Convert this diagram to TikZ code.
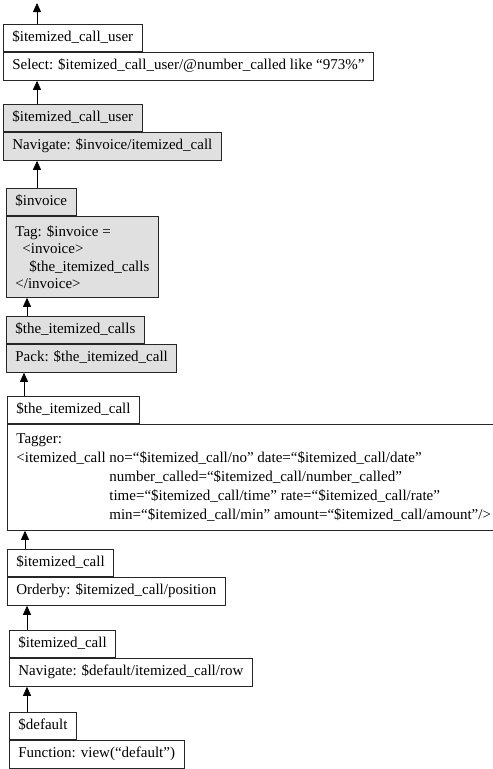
\documentclass[tikz,border=0pt]{standalone}
\usepackage{fontspec}
\setmainfont{Liberation Serif}
\usetikzlibrary{positioning,arrows.meta}
\tikzset{
  basebox/.style={draw=black!85, line width=0.8pt, inner xsep=9pt, inner ysep=0pt, font=\fontsize{15}{18}\selectfont},
  opbox/.style={basebox, anchor=north west, minimum height=28pt, text height=10.5pt, text depth=3.5pt},
  varbox/.style={basebox, anchor=south west, minimum height=27pt, text height=10.5pt, text depth=3.5pt},
  multibox/.style={basebox, anchor=north west, align=left},
  shaded/.style={fill=black!12},
  flow/.style={-{Triangle[length=9pt,width=8pt]}, line width=0.8pt},
}
\begin{document}
\begin{tikzpicture}[x=1pt, y=-1pt]
\useasboundingbox (0,0) rectangle (493,769);
% operator boxes, from top to bottom
\node[opbox] (sel) at (3,52) {Select: \$itemized\_call\_user/@number\_called like “973\%”};
\node[varbox] (selv) at (sel.north west) {\$itemized\_call\_user};
\node[opbox,shaded] (nav1) at (3,132) {Navigate: \$invoice/itemized\_call};
\node[varbox,shaded] (nav1v) at (nav1.north west) {\$itemized\_call\_user};
\node[multibox,shaded,minimum height=81pt,font=\fontsize{15}{17.5}\selectfont] (tag) at (6,216) {Tag: \$invoice =\\\hspace*{7pt}<invoice>\\\hspace*{14pt}\$the\_itemized\_calls\\</invoice>};
\node[varbox,shaded] (tagv) at (tag.north west) {\$invoice};
\node[opbox,shaded] (pack) at (6,344) {Pack: \$the\_itemized\_call};
\node[varbox,shaded] (packv) at (pack.north west) {\$the\_itemized\_calls};
\node[multibox,minimum height=106pt,font=\fontsize{15}{19}\selectfont] (tagger) at (7,424) {Tagger:\\
<itemized\_call no=“\$itemized\_call/no” date=“\$itemized\_call/date”\\
\hphantom{<itemized\_call }number\_called=“\$itemized\_call/number\_called”\\
\hphantom{<itemized\_call }time=“\$itemized\_call/time” rate=“\$itemized\_call/rate”\\
\hphantom{<itemized\_call }min=“\$itemized\_call/min” amount=“\$itemized\_call/amount”/>};
\node[varbox] (taggerv) at (tagger.north west) {\$the\_itemized\_call};
\node[opbox] (ord) at (7,577) {Orderby: \$itemized\_call/position};
\node[varbox] (ordv) at (ord.north west) {\$itemized\_call};
\node[opbox] (nav2) at (9,658) {Navigate: \$default/itemized\_call/row};
\node[varbox] (nav2v) at (nav2.north west) {\$itemized\_call};
\node[opbox] (fun) at (9,740) {Function: view(“default”)};
\node[varbox] (funv) at (fun.north west) {\$default};
\coordinate (out) at (37,3);
% data flow, bottom to top
\draw[flow] ([xshift=18pt]funv.north west) -- ([xshift=18pt]funv.north west |- nav2.south);
\draw[flow] ([xshift=18pt]nav2v.north west) -- ([xshift=18pt]nav2v.north west |- ord.south);
\draw[flow] ([xshift=18pt]ordv.north west) -- ([xshift=18pt]ordv.north west |- tagger.south);
\draw[flow] ([xshift=17pt]taggerv.north west) -- ([xshift=17pt]taggerv.north west |- pack.south);
\draw[flow] ([xshift=21pt]packv.north west) -- ([xshift=21pt]packv.north west |- tag.south);
\draw[flow] ([xshift=31pt]tagv.north west) -- ([xshift=31pt]tagv.north west |- nav1.south);
\draw[flow] ([xshift=34pt]nav1v.north west) -- ([xshift=34pt]nav1v.north west |- sel.south);
\draw[flow] ([xshift=34pt]selv.north west) -- (out);
\end{tikzpicture}
\end{document}
